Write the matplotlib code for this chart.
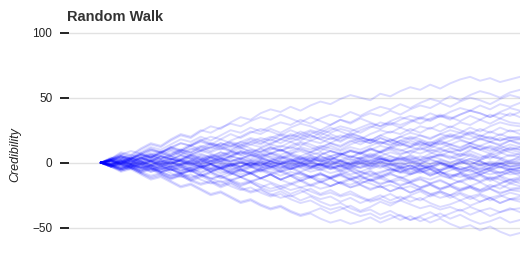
import matplotlib
matplotlib.use("Agg")
import matplotlib.pyplot as plt
import numpy as np

# walk positions (one value every ~10 px)
w01 = [0,3,7,5,10,14,12,17,21,19,24,28,26,31,35,33,38,41,39,43,40,44,47,45,49,52,50,48,53,51,55,58,56,60,57,61,64,66,63,65,62,64,66]
w02 = [0,-2,3,6,4,9,7,12,10,14,18,15,13,17,20,24,22,26,23,27,30,28,25,29,33,31,35,38,36,40,37,41,44,42,46,43,47,50,48,45,49,52,50]
w03 = [0,4,2,-1,3,7,5,9,6,10,13,11,15,12,16,19,17,14,18,22,20,24,21,25,28,26,23,27,31,29,33,36,34,38,35,39,42,40,44,41,45,43,46]
w04 = [0,3,8,6,11,15,13,18,22,20,25,23,27,30,28,32,35,33,37,34,31,35,32,29,33,30,34,31,28,32,35,33,30,34,37,35,32,36,33,37,34,38,35]
w05 = [0,-3,-1,2,-2,1,5,3,-1,2,6,4,8,5,9,7,11,14,12,16,13,17,15,19,16,20,18,22,25,23,27,24,28,26,30,27,31,29,33,30,34,31,30]
w06 = [0,2,5,3,7,4,8,11,9,13,10,14,12,9,13,16,14,18,15,19,17,21,18,15,19,22,20,17,21,24,22,26,23,27,24,28,25,22,26,23,27,24,25]
w07 = [0,-2,-5,-3,-6,-2,-4,0,3,1,5,2,6,4,8,5,9,12,10,7,11,8,12,15,13,17,14,18,16,13,17,20,18,15,19,22,20,24,21,18,22,19,20]
w08 = [0,3,1,4,7,5,9,6,10,8,12,15,13,10,14,11,8,12,9,13,16,14,11,15,12,16,19,17,14,18,15,12,16,13,17,20,18,15,19,16,13,17,15]
w09 = [0,-1,2,-1,3,1,-2,2,5,3,0,4,1,5,8,6,3,7,4,1,5,2,6,9,7,4,8,5,9,12,10,7,11,8,5,9,6,10,13,11,8,12,10]
w10 = [0,2,-1,-4,-1,-5,-2,-6,-3,-7,-4,-1,-5,-2,1,-2,2,5,3,6,4,1,5,2,6,9,7,4,8,5,2,6,3,7,10,8,5,9,6,3,7,10,8]
w11 = [0,-3,0,3,1,-2,2,-1,3,6,4,1,5,8,6,3,7,4,0,3,-1,2,-2,1,-3,0,4,1,5,2,-1,3,0,4,7,5,2,6,3,7,4,1,5]
w12 = [0,2,4,1,-2,1,-3,0,-4,-1,2,-1,3,0,-3,1,-2,2,5,3,0,4,1,-2,2,-1,3,6,4,1,5,2,-1,3,0,-3,1,-2,2,5,3,0,2]
w13 = [0,-2,1,-1,-4,-2,-6,-3,-7,-4,-8,-5,-2,-6,-3,0,-3,1,-2,-5,-1,-4,0,3,1,-2,2,-1,3,0,-3,1,-2,-5,-1,-4,0,3,1,-2,2,-1,0]
w14 = [0,1,3,0,4,1,5,2,6,3,0,4,1,-2,1,-3,0,-4,-1,-5,-2,1,-2,2,-1,-4,0,-3,1,-2,-5,-2,-6,-3,0,-3,1,-2,-5,-1,-4,0,-2]
w15 = [0,-1,-3,-1,-4,-2,1,-2,2,-1,-4,-1,-5,-2,-6,-3,-7,-4,-1,-4,0,-3,-6,-3,-7,-4,-1,-5,-2,-6,-3,-7,-4,-8,-5,-2,-6,-3,-7,-4,-1,-5,-4]
w16 = [0,2,0,3,6,4,8,5,2,6,3,0,3,-1,2,-2,1,-3,-6,-3,-7,-4,-1,-5,-2,-6,-9,-6,-10,-7,-4,-8,-5,-2,-6,-3,-7,-10,-7,-4,-8,-5,-6]
w17 = [0,-3,-1,-4,-7,-5,-8,-5,-9,-6,-10,-7,-4,-8,-5,-9,-6,-3,-7,-4,-8,-11,-8,-12,-9,-6,-10,-7,-11,-8,-5,-9,-6,-10,-7,-11,-8,-5,-9,-6,-10,-7,-8]
w18 = [0,1,-2,0,-3,1,-2,-5,-2,-6,-3,-7,-10,-7,-11,-8,-12,-9,-13,-10,-7,-11,-8,-12,-9,-13,-10,-14,-11,-8,-12,-9,-6,-10,-7,-11,-8,-12,-9,-13,-10,-7,-10]
w19 = [0,-2,-4,-2,-5,-3,-7,-4,-8,-6,-10,-7,-11,-14,-11,-15,-12,-9,-13,-10,-14,-11,-15,-18,-15,-12,-16,-13,-10,-14,-11,-15,-12,-16,-13,-17,-14,-11,-15,-12,-16,-13,-13]
w20 = [0,2,-1,-3,-1,-4,-7,-5,-9,-6,-3,-7,-4,-8,-11,-8,-12,-9,-13,-16,-13,-17,-14,-18,-15,-19,-16,-13,-17,-14,-18,-15,-19,-16,-20,-17,-14,-18,-15,-19,-16,-13,-16]
w21 = [0,-1,-4,-2,-6,-3,-7,-10,-8,-12,-9,-13,-10,-14,-17,-15,-19,-16,-20,-17,-14,-18,-15,-12,-16,-13,-17,-20,-18,-22,-19,-23,-20,-17,-21,-18,-22,-19,-23,-20,-24,-21,-20]
w22 = [0,-3,-6,-4,-8,-11,-9,-13,-10,-14,-17,-15,-19,-16,-20,-23,-21,-25,-22,-26,-23,-20,-24,-21,-25,-22,-26,-29,-27,-24,-28,-25,-22,-26,-23,-27,-24,-28,-25,-29,-26,-23,-25]
w23 = [0,-2,-5,-3,-7,-4,-8,-11,-9,-13,-10,-14,-17,-14,-18,-15,-19,-22,-20,-24,-21,-25,-28,-26,-30,-27,-31,-28,-25,-29,-26,-30,-27,-31,-34,-32,-29,-33,-30,-27,-31,-28,-30]
w24 = [0,-3,-7,-5,-9,-13,-11,-15,-19,-17,-21,-25,-23,-27,-31,-29,-33,-36,-34,-38,-41,-39,-43,-46,-44,-47,-45,-42,-46,-43,-40,-44,-41,-38,-42,-39,-36,-40,-37,-41,-38,-35,-38]
w25 = [0,-2,-5,-3,-7,-10,-8,-12,-9,-13,-16,-14,-18,-15,-19,-22,-20,-24,-27,-25,-29,-26,-30,-33,-31,-35,-38,-36,-40,-37,-41,-44,-42,-46,-43,-47,-50,-48,-52,-49,-53,-56,-54]
w26 = [0,1,-2,-5,-3,-7,-4,-8,-11,-9,-13,-16,-14,-18,-21,-19,-23,-26,-24,-28,-31,-29,-33,-36,-34,-38,-41,-39,-43,-40,-44,-41,-45,-42,-39,-43,-40,-44,-47,-45,-42,-46,-44]
w27 = [0,2,5,3,7,10,8,12,9,13,16,14,18,15,12,16,19,17,21,18,22,25,23,27,24,21,25,28,26,30,27,31,34,32,36,33,37,40,38,35,39,42,40]
w28 = [0,3,6,4,8,12,10,14,18,16,20,17,21,25,23,27,24,28,31,29,33,30,34,37,35,39,36,40,43,41,45,42,46,49,47,51,48,52,55,53,50,54,56]
w29 = [0,-2,1,4,2,6,3,7,10,8,12,9,13,16,14,18,15,19,22,20,24,21,18,22,19,23,20,17,21,18,15,19,16,13,17,14,11,15,12,9,13,10,12]
w30 = [0,2,5,3,6,10,8,11,15,13,17,14,11,15,12,8,11,7,10,6,3,6,2,5,1,-2,1,-3,0,-4,-7,-4,-8,-5,-9,-12,-9,-13,-10,-14,-11,-15,-12]
w31 = [0,-3,-6,-4,-8,-5,-9,-12,-10,-14,-11,-8,-12,-9,-5,-8,-4,-1,-4,0,3,1,5,2,6,9,7,11,8,12,15,13,17,14,18,21,19,23,20,24,21,25,22]
w32 = [0,1,-1,2,0,-3,-1,-4,-2,1,-1,2,0,-3,0,-2,1,-1,2,0,-3,-1,-4,-2,1,-1,2,0,3,1,-2,0,-3,-1,2,0,3,1,-2,1,-1,2,3]
w33 = [0,-1,1,-2,0,2,-1,1,-2,0,-3,-1,1,-2,0,-3,-5,-2,-4,-1,-3,0,-2,-5,-3,-1,-4,-2,1,-1,-4,-2,-5,-3,0,-2,-5,-3,-6,-4,-1,-3,-3]
w34 = [0,-2,-6,-4,-8,-12,-10,-14,-18,-16,-20,-24,-22,-26,-30,-28,-32,-35,-33,-37,-40,-38,-35,-39,-36,-33,-37,-34,-30,-33,-29,-26,-29,-25,-22,-25,-21,-18,-21,-17,-20,-16,-18]
w35 = [0,2,-1,3,6,4,1,5,2,6,9,7,4,8,11,9,6,10,13,11,15,12,9,13,10,14,17,15,19,16,20,23,21,18,22,25,23,27,24,28,31,29,28]
w36 = [0,-1,2,0,4,1,-2,1,-3,-6,-3,-7,-4,-8,-11,-8,-12,-9,-13,-10,-14,-11,-15,-12,-16,-19,-17,-21,-18,-22,-19,-23,-20,-24,-27,-25,-29,-26,-30,-27,-31,-28,-28]
w37 = [0,3,6,9,7,11,8,12,15,13,17,20,18,22,19,23,26,24,21,25,22,19,23,20,17,21,18,15,19,16,13,17,14,11,15,12,9,13,10,7,11,8,6]
w38 = [0,-3,0,-2,1,-2,-5,-2,-6,-3,-1,-4,-1,-4,-7,-4,-1,-3,0,-3,1,-2,-5,-2,-6,-3,-7,-4,-1,-4,-8,-5,-2,-5,-9,-6,-3,-6,-9,-6,-3,-7,-6]
w39 = [0,-2,0,-3,-1,2,0,3,1,-2,1,4,2,5,3,6,4,1,4,7,5,8,6,9,7,4,7,10,8,11,9,12,10,13,11,14,12,15,13,16,14,17,14]
w40 = [0,2,0,3,1,4,2,-1,2,0,-3,-1,-4,-2,-5,-3,-6,-9,-7,-10,-8,-11,-9,-12,-10,-13,-11,-14,-12,-15,-13,-16,-19,-17,-20,-18,-21,-19,-22,-20,-23,-21,-22]
w41 = [0,2,4,1,3,6,3,5,8,5,7,4,6,9,6,8,5,7,10,7,9,6,8,5,7,10,8,11,8,10,7,9,12,9,11,8,10,13,10,12,9,11,10]
w42 = [0,-2,-4,-1,-3,-6,-3,-5,-8,-5,-7,-4,-6,-9,-6,-8,-5,-7,-10,-7,-9,-12,-9,-11,-8,-10,-13,-10,-12,-9,-11,-14,-11,-13,-10,-12,-15,-12,-14,-11,-13,-16,-14]
w43 = [0,1,-1,2,4,1,3,0,2,5,3,6,4,1,3,6,4,7,5,2,4,1,3,0,2,-1,1,4,2,5,3,0,2,-1,1,-2,0,3,1,-2,0,-3,-1]
w44 = [0,-1,1,-2,-4,-1,-3,0,-2,-5,-3,-6,-4,-7,-5,-8,-6,-3,-5,-2,-4,-7,-5,-8,-6,-9,-7,-10,-8,-5,-7,-4,-6,-9,-7,-10,-8,-11,-9,-12,-10,-13,-11]
w45 = [0,2,0,3,1,4,7,5,8,6,9,12,10,13,11,14,12,15,18,16,19,17,20,18,21,19,16,18,15,17,20,18,21,19,22,20,23,21,18,20,17,19,18]
w46 = [0,-2,0,-3,-1,-4,-7,-5,-8,-6,-9,-12,-10,-13,-11,-14,-12,-15,-18,-16,-19,-17,-20,-18,-15,-17,-14,-16,-19,-17,-20,-18,-21,-24,-22,-25,-23,-26,-24,-27,-25,-28,-26]
w47 = [0,1,3,1,-1,1,-1,-3,-1,1,3,1,3,5,3,1,3,1,-1,1,3,5,3,5,7,5,3,5,3,1,3,1,-1,-3,-1,-3,-5,-3,-1,-3,-1,1,0]
w48 = [0,-1,-3,-1,1,-1,1,3,1,-1,-3,-1,-3,-5,-3,-1,-3,-5,-7,-5,-3,-5,-3,-1,-3,-5,-7,-9,-7,-5,-7,-9,-7,-5,-7,-9,-11,-9,-7,-9,-7,-9,-8]
w49 = [0,3,1,4,2,5,3,6,9,7,10,8,11,9,7,10,8,11,9,12,10,8,11,9,6,9,7,10,13,11,14,12,15,13,16,14,17,15,18,16,19,17,18]
w50 = [0,-3,-1,-4,-2,-5,-3,-6,-4,-7,-5,-2,-4,-1,-3,0,-2,1,-1,2,0,-3,-1,-4,-2,1,-1,2,0,3,1,4,2,5,3,0,2,-1,1,-2,0,-3,-2]
w51 = [0,2,5,3,6,4,7,10,8,11,9,12,15,13,16,14,17,20,18,21,19,22,25,23,26,24,27,30,28,31,29,32,35,33,36,34,37,40,38,35,38,36,39]
w52 = [0,-2,-5,-3,-6,-4,-7,-10,-8,-11,-9,-12,-15,-13,-16,-14,-17,-20,-18,-21,-19,-22,-25,-23,-26,-24,-27,-30,-28,-31,-29,-32,-35,-33,-36,-34,-37,-34,-37,-35,-38,-36,-35]
w53 = [0,1,4,2,0,3,1,-1,2,0,-2,1,-1,-3,0,-2,-4,-1,-3,-5,-2,-4,-1,-3,-5,-2,-4,-1,1,-2,0,-3,-1,2,0,-3,-1,1,-2,0,-3,-5,-4]
w54 = [0,-1,-4,-2,0,-3,-1,1,-2,0,2,-1,1,3,0,2,4,1,3,5,2,4,1,3,5,2,4,7,5,8,6,9,7,10,8,11,9,12,10,13,11,14,12]
w55 = [0,3,5,2,4,7,5,3,6,4,2,5,3,1,4,2,0,3,1,-1,2,0,-2,1,-1,-3,0,-2,-4,-1,-3,-5,-2,-4,-6,-3,-5,-7,-4,-6,-8,-5,-7]
w56 = [0,-3,-5,-2,-4,-7,-5,-3,-6,-4,-2,-5,-3,-1,-4,-2,0,-3,-1,1,-2,0,2,-1,1,3,0,2,4,1,3,5,2,4,6,3,5,7,4,6,8,5,7]
w57 = [0,2,-1,1,4,2,5,3,1,4,2,5,8,6,9,7,5,8,6,9,12,10,13,11,9,12,10,13,16,14,17,15,13,16,14,17,20,18,21,19,17,20,19]
w58 = [0,-2,1,-1,-4,-2,-5,-3,-1,-4,-2,-5,-8,-6,-9,-7,-5,-8,-6,-9,-12,-10,-13,-11,-9,-12,-10,-13,-16,-14,-17,-15,-13,-16,-14,-17,-20,-18,-21,-19,-17,-20,-19]
w59 = [0,1,-2,1,-1,2,0,3,1,-2,1,-1,-4,-1,-3,0,-2,1,-1,2,0,3,1,4,2,5,3,0,3,1,4,2,5,3,6,4,7,5,2,5,3,6,4]
w60 = [0,-1,2,-1,1,-2,0,-3,-1,2,-1,1,4,1,3,0,2,-1,1,-2,0,-3,-1,-4,-2,-5,-3,0,-3,-1,-4,-2,-5,-3,-6,-4,-7,-5,-2,-5,-3,-6,-4]

walks = [w01, w02, w03, w04, w05, w06, w07, w08, w09, w10,
         w11, w12, w13, w14, w15, w16, w17, w18, w19, w20,
         w21, w22, w23, w24, w25, w26, w27, w28, w29, w30,
         w31, w32, w33, w34, w35, w36, w37, w38, w39, w40,
         w41, w42, w43, w44, w45, w46, w47, w48, w49, w50,
         w51, w52, w53, w54, w55, w56, w57, w58, w59, w60]

y_ticks = [-50, 0, 50, 100]

fig = plt.figure(figsize=(5.2, 2.72), dpi=100)
ax = fig.add_axes([69 / 520, 0, 451 / 520, 242 / 272])

for w in walks:
    ax.plot(np.arange(len(w)), w, color="blue", alpha=0.14, lw=1.4)

ax.set_xlim(-3.2, 42)
ax.set_ylim(-84, 102)
ax.set_yticks(y_ticks)
ax.set_yticklabels(["\u221250", "0", "50", "100"])
ax.set_xticks([])
ax.grid(axis="y", color="#e2e2e2", lw=1)
ax.set_axisbelow(True)
for s in ax.spines.values():
    s.set_visible(False)
ax.tick_params(axis="y", length=6.5, width=1.3, color="#111111", pad=5.5,
               labelsize=8.5, labelcolor="#222222")
for lab in ax.get_yticklabels():
    lab.set_family("Liberation Sans")

fig.text(67 / 520, 1 - 17 / 272, "Random Walk", fontsize=10.5, fontweight="bold",
         family="Liberation Sans", color="#333333", va="center", ha="left")
fig.text(15 / 520, 1 - 155 / 272, "Credibility", fontsize=9, style="italic",
         family="Liberation Sans", color="#222222", rotation=90, va="center", ha="center")

fig.savefig("out.png", dpi=100)
